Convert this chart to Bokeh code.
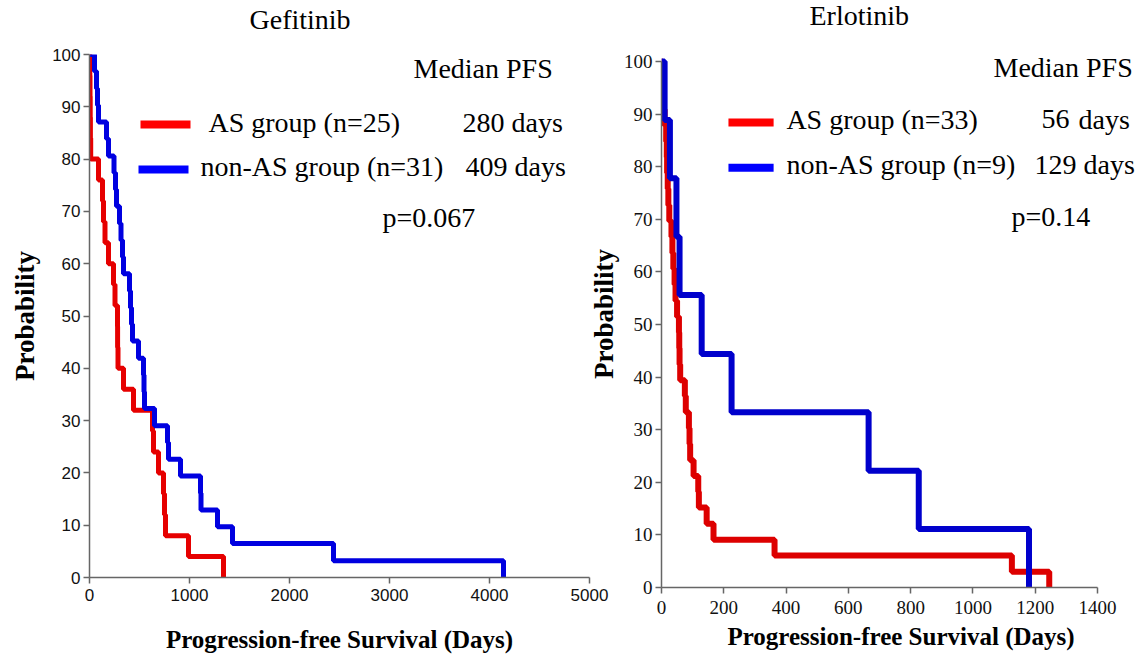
from bokeh.plotting import figure
from bokeh.layouts import row
from bokeh.models import Label, Range1d, FixedTicker
from bokeh.embed import file_html
from bokeh.resources import INLINE

# ---------------- data ----------------
gef_x_ticks = [0, 1000, 2000, 3000, 4000, 5000]
erl_x_ticks = [0, 200, 400, 600, 800, 1000, 1200, 1400]
y_ticks = [0, 10, 20, 30, 40, 50, 60, 70, 80, 90, 100]

gef_as_days = [0, 3, 5, 7, 9, 12, 90, 130, 140, 155, 190, 240, 255, 280, 281, 285,
               340, 440, 630, 640, 690, 740, 750, 760, 990, 1340]
gef_as_surv = [100, 96, 92, 88, 84, 80, 76, 72, 68, 64, 60, 56, 52, 48, 44, 40,
               36, 32, 28, 24, 20, 16, 12, 8, 4, 0]

gef_non_days = [0, 50, 70, 80, 90, 170, 190, 245, 260, 270, 300, 315, 330, 340, 400,
                410, 420, 430, 490, 540, 545, 550, 650, 780, 790, 910, 1110, 1115,
                1280, 1430, 2440, 4140]
gef_non_surv = [100, 96.8, 93.5, 90.3, 87.1, 83.9, 80.6, 77.4, 74.2, 71.0, 67.7, 64.5,
                61.3, 58.1, 54.8, 51.6, 48.4, 45.2, 41.9, 38.7, 35.5, 32.3, 29.0, 25.8,
                22.6, 19.4, 16.1, 12.9, 9.7, 6.5, 3.2, 0]

erl_as_days = [0, 3, 5, 8, 10, 15, 17, 18, 20, 22, 25, 32, 35, 38, 42, 45, 50, 56, 57,
               58, 60, 75, 78, 88, 90, 92, 103, 118, 120, 145, 167, 363, 1125, 1245]
erl_as_surv = [100, 97.0, 93.9, 90.9, 87.9, 84.8, 81.8, 78.8, 75.8, 72.7, 69.7, 66.7,
               63.6, 60.6, 57.6, 54.5, 51.5, 48.5, 45.5, 42.4, 39.4, 36.4, 33.3, 30.3,
               27.3, 24.2, 21.2, 18.2, 15.2, 12.1, 9.1, 6.1, 3.0, 0]

erl_non_days = [0, 10, 27, 48, 58, 129, 225, 665, 826, 1180]
erl_non_surv = [100, 88.9, 77.8, 66.7, 55.6, 44.4, 33.3, 22.2, 11.1, 0]

gef_groups = ["AS group (n=25)", "non-AS group (n=31)"]
gef_medians = ["280 days", "409 days"]
gef_p = "p=0.067"
erl_groups = ["AS group (n=33)", "non-AS group (n=9)"]
erl_medians = ["56", "129 days"]
erl_p = "p=0.14"

SERIF = "Liberation Serif"
SANS = "Liberation Sans"


def style(p, tick_font, tick_size, xtick_standoff, xlab_standoff, ylab_standoff):
    p.outline_line_color = None
    p.xgrid.visible = False
    p.ygrid.visible = False
    p.background_fill_color = "white"
    for axes in (p.xaxis, p.yaxis):
        axes.axis_line_color = "#666666"
        axes.axis_line_width = 1.5
        axes.major_tick_line_color = "#666666"
        axes.major_tick_line_width = 1.5
        axes.major_tick_out = 6
        axes.major_tick_in = 0
        axes.minor_tick_line_color = None
        axes.major_label_text_font = tick_font
        axes.major_label_text_font_size = tick_size
        axes.major_label_text_color = "#111111"
        axes.axis_label_text_font = SERIF
        axes.axis_label_text_font_style = "bold"
        axes.axis_label_text_color = "black"
    p.xaxis.axis_label = "Progression-free Survival (Days)"
    p.xaxis.axis_label_text_font_size = "25px"
    p.yaxis.axis_label = "Probability"
    p.yaxis.axis_label_text_font_size = "27px"
    p.xaxis.major_label_standoff = xtick_standoff
    p.yaxis.major_label_standoff = 3
    p.xaxis.axis_label_standoff = xlab_standoff
    p.yaxis.axis_label_standoff = ylab_standoff
    p.title.text_font = SERIF
    p.title.text_font_size = "28px"
    p.title.text_font_style = "normal"
    p.title.text_color = "black"
    p.title.align = "left"


def lab(p, x, y, text):
    p.add_layout(Label(x=x, y=y, text=text, text_font=SERIF, text_font_size="28px",
                       text_baseline="middle", text_align="left", text_color="black"))


# ---------------- Gefitinib ----------------
p1 = figure(frame_width=500, frame_height=523, x_range=Range1d(0, 5000),
            y_range=Range1d(0, 100), output_backend="svg", toolbar_location=None,
            title="Gefitinib", min_border_left=89, min_border_right=31,
            min_border_top=84, min_border_bottom=82)
style(p1, SANS, "17px", 5, 22, 9)
p1.title.offset = 160
p1.title.standoff = 40
p1.margin = (-30, 0, 0, 0)
p1.xaxis.ticker = FixedTicker(ticks=gef_x_ticks)
p1.yaxis.ticker = FixedTicker(ticks=y_ticks)

p1.step(x=gef_as_days, y=gef_as_surv, mode="after", line_width=5, line_color="#E60000")
p1.step(x=gef_non_days, y=gef_non_surv, mode="after", line_width=5, line_color="#0000E0")

p1.segment(x0=[510], y0=[86.6], x1=[1010], y1=[86.6], line_width=8, line_color="#FF0000")
p1.segment(x0=[490], y0=[78.0], x1=[990], y1=[78.0], line_width=8, line_color="#0000FF")
lab(p1, 3240, 97.4, "Median PFS")
lab(p1, 1190, 87.0, gef_groups[0])
lab(p1, 3730, 87.0, gef_medians[0])
lab(p1, 1110, 78.6, gef_groups[1])
lab(p1, 3760, 78.6, gef_medians[1])
lab(p1, 2930, 68.8, gef_p)

# ---------------- Erlotinib ----------------
# frame extends past 1400 / above 100 so the legend text is not clipped;
# the axes are bounded to the data ranges
p2 = figure(frame_width=479, frame_height=547, x_range=Range1d(0, 1538),
            y_range=Range1d(0, 104), output_backend="svg", toolbar_location=None,
            title="Erlotinib", min_border_left=75, min_border_right=0,
            min_border_top=84, min_border_bottom=71)
style(p2, SERIF, "19px", 7, 6, 2)
p2.title.offset = 148
p2.title.standoff = 19
p2.background_fill_alpha = 0
p2.border_fill_alpha = 0
p2.margin = (-44, 0, 0, -35)
p2.xaxis.ticker = FixedTicker(ticks=erl_x_ticks)
p2.xaxis.bounds = (0, 1400)
p2.yaxis.ticker = FixedTicker(ticks=y_ticks)
p2.yaxis.bounds = (0, 100)

p2.step(x=erl_as_days, y=erl_as_surv, mode="after", line_width=6, line_color="#DD0000")
p2.step(x=erl_non_days, y=erl_non_surv, mode="after", line_width=6, line_color="#0000CC")

p2.segment(x0=[215], y0=[88.4], x1=[360], y1=[88.4], line_width=8, line_color="#FF0000")
p2.segment(x0=[215], y0=[79.8], x1=[360], y1=[79.8], line_width=8, line_color="#0000FF")
lab(p2, 1066, 98.8, "Median PFS")
lab(p2, 401, 89.0, erl_groups[0])
lab(p2, 1220, 89.0, erl_medians[0])
lab(p2, 1339, 89.0, "days")
lab(p2, 401, 80.4, erl_groups[1])
lab(p2, 1198, 80.4, erl_medians[1])
lab(p2, 1124, 70.5, erl_p)

layout = row(p1, p2)
open("out.html", "w").write(file_html(layout, INLINE))
